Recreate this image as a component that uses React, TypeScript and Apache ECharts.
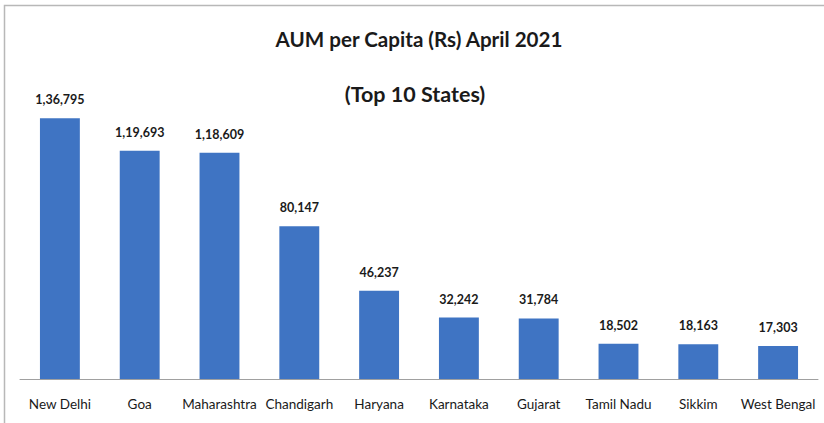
import React, { useEffect, useRef } from "react";
import * as echarts from "echarts";

const states = ["New Delhi", "Goa", "Maharashtra", "Chandigarh", "Haryana", "Karnataka", "Gujarat", "Tamil Nadu", "Sikkim", "West Bengal"];
const aumPerCapita = [136795, 119693, 118609, 80147, 46237, 32242, 31784, 18502, 18163, 17303];
const titleText = "AUM per Capita (Rs) April 2021";
const subtitleText = "(Top 10 States)";

function formatIndian(n: number): string {
  const s = String(Math.round(n));
  if (s.length <= 3) return s;
  const last3 = s.slice(-3);
  let rest = s.slice(0, -3);
  const parts: string[] = [];
  while (rest.length > 2) {
    parts.unshift(rest.slice(-2));
    rest = rest.slice(0, -2);
  }
  if (rest.length) parts.unshift(rest);
  return parts.join(",") + "," + last3;
}

export default function App() {
  const ref = useRef<HTMLDivElement>(null);
  useEffect(() => {
    document.body.style.margin = "0";
    const chart = echarts.init(ref.current!, null, { renderer: "svg" });
    const font = "Lato";
    chart.setOption({
      animation: false,
      backgroundColor: "#ffffff",
      graphic: [
        {
          type: "rect",
          shape: { x: 4.5, y: 5.5, width: 830, height: 430 },
          style: { fill: "none", stroke: "#b8b8b8", lineWidth: 1.5 },
          silent: true,
        },
        {
          type: "text",
          x: 419,
          y: 39,
          style: {
            text: titleText,
            align: "center",
            verticalAlign: "middle",
            fontFamily: font,
            fontWeight: "bold",
            fontSize: 20.6,
            fill: "#1a1a1a",
          },
        },
        {
          type: "text",
          x: 415,
          y: 94,
          style: {
            text: subtitleText,
            align: "center",
            verticalAlign: "middle",
            fontFamily: font,
            fontWeight: "bold",
            fontSize: 21.5,
            fill: "#1a1a1a",
          },
        },
      ],
      grid: { left: 20, right: 6, top: 93, bottom: 44, containLabel: false },
      xAxis: {
        type: "category",
        data: states,
        axisLine: { lineStyle: { color: "#a0a0a0", width: 1 } },
        axisTick: { show: false },
        axisLabel: {
          interval: 0,
          margin: 18,
          fontFamily: font,
          fontSize: 13.5,
          color: "#1a1a1a",
        },
      },
      yAxis: {
        type: "value",
        min: 0,
        max: 150000,
        show: false,
        splitLine: { show: false },
      },
      series: [
        {
          type: "bar",
          data: aumPerCapita,
          barWidth: "50%",
          itemStyle: { color: "#3f74c3" },
          label: {
            show: true,
            position: "top",
            distance: 12,
            fontFamily: font,
            fontWeight: "bold",
            fontSize: 12.5,
            color: "#1a1a1a",
            formatter: (p: any) => formatIndian(p.value),
          },
        },
      ],
    });
    return () => chart.dispose();
  }, []);
  return <div ref={ref} style={{ width: 824, height: 423 }} />;
}
